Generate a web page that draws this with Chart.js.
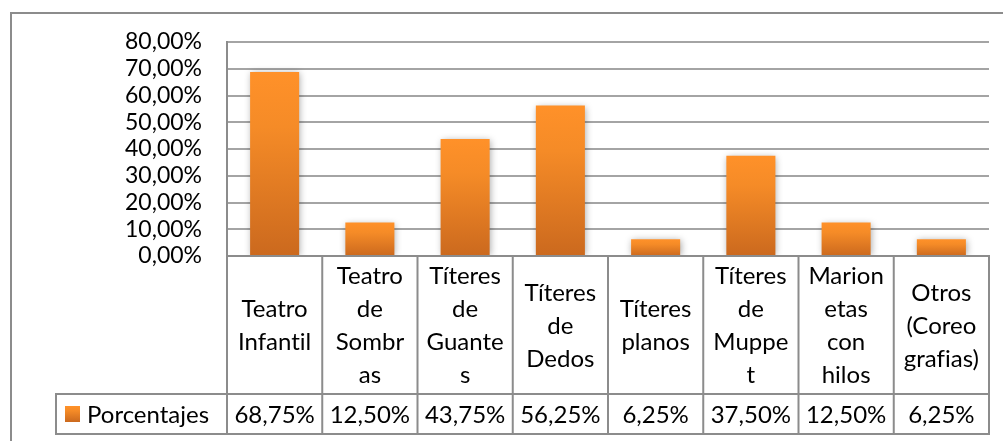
<!DOCTYPE html>
<html><head><meta charset="utf-8">
<script src="https://cdn.jsdelivr.net/npm/chart.js@4.4.1/dist/chart.umd.min.js"></script>
<style>html,body{margin:0;padding:0;background:#fff;overflow:hidden}canvas{display:block}</style>
</head><body>
<canvas id="c" width="1003" height="441"></canvas>
<script>
const categories = [
  ["Teatro","Infantil"],
  ["Teatro","de","Sombr","as"],
  ["Títeres","de","Guante","s"],
  ["Títeres","de","Dedos"],
  ["Títeres","planos"],
  ["Títeres","de","Muppe","t"],
  ["Marion","etas","con","hilos"],
  ["Otros","(Coreo","grafias)"]
];
const seriesName = "Porcentajes";
const porcentajes = [68.75, 12.5, 43.75, 56.25, 6.25, 37.5, 12.5, 6.25];
const yTicks = [0, 10, 20, 30, 40, 50, 60, 70, 80];

const fmt = v => v.toFixed(2).replace('.', ',') + '%';
const FONT = 'Lato, "Open Sans", sans-serif';
const LINE = '#8c8c8c';

function barGradient(ctx, top, bot) {
  const g = ctx.createLinearGradient(0, top, 0, bot);
  g.addColorStop(0, '#FF9129');
  g.addColorStop(0.3, '#F58B27');
  g.addColorStop(1, '#CB691E');
  return g;
}

const framePlugin = {
  id: 'frame',
  beforeDraw(chart) {
    const ctx = chart.ctx;
    ctx.save();
    ctx.strokeStyle = LINE;
    ctx.lineWidth = 2;
    ctx.beginPath();
    ctx.moveTo(11, chart.height + 2);
    ctx.lineTo(11, 13);
    ctx.lineTo(chart.width + 2, 13);
    ctx.stroke();
    ctx.restore();
  }
};

const shadowPlugin = {
  id: 'barShadow',
  beforeDatasetsDraw(chart) {
    const ctx = chart.ctx;
    ctx.save();
    ctx.shadowColor = 'rgba(0,0,0,0.35)';
    ctx.shadowBlur = 7;
    ctx.shadowOffsetX = 1;
    ctx.shadowOffsetY = 1;
  },
  afterDatasetsDraw(chart) { chart.ctx.restore(); }
};

const tablePlugin = {
  id: 'dataTable',
  afterDraw(chart) {
    const ctx = chart.ctx;
    const a = chart.chartArea;
    const x = chart.scales.x;
    const n = categories.length;
    const cw = (a.right - a.left) / n;
    const labelRowH = 138, valueRowH = 40;
    const rowMid = a.bottom + labelRowH;
    const rowBot = rowMid + valueRowH;
    const legendLeft = 56;

    ctx.save();
    ctx.strokeStyle = LINE;
    ctx.lineWidth = 2;
    ctx.beginPath();
    ctx.moveTo(a.left - 1, a.bottom); ctx.lineTo(a.right + 1, a.bottom);
    ctx.moveTo(legendLeft, rowMid); ctx.lineTo(a.right + 1, rowMid);
    ctx.moveTo(legendLeft, rowBot); ctx.lineTo(a.right + 1, rowBot);
    ctx.moveTo(legendLeft, rowMid - 1); ctx.lineTo(legendLeft, rowBot + 1);
    for (let i = 0; i <= n; i++) {
      const bx = x.getPixelForValue(i) - cw / 2;
      ctx.moveTo(bx, i === 0 ? a.top : a.bottom);
      ctx.lineTo(bx, rowBot + 1);
    }
    ctx.stroke();

    try { ctx.textRendering = 'optimizeSpeed'; } catch (e) {}
    ctx.fillStyle = '#000';
    ctx.font = '24px ' + FONT;
    ctx.textAlign = 'center';
    ctx.textBaseline = 'middle';
    const lh = 33;
    const cy = (a.bottom + rowMid) / 2;
    const vy = (rowMid + rowBot) / 2;
    for (let i = 0; i < n; i++) {
      const cx = x.getPixelForValue(i);
      const lines = categories[i];
      lines.forEach((t, k) => {
        ctx.fillText(t, cx, cy - (lines.length - 1) * lh / 2 + k * lh + 1);
      });
      ctx.fillText(fmt(chart.data.datasets[0].data[i]), cx, vy + 1);
    }
    ctx.fillStyle = barGradient(ctx, vy - 8, vy + 8);
    ctx.fillRect(65, vy - 8, 15, 16);
    ctx.fillStyle = '#000';
    ctx.textAlign = 'left';
    ctx.fillText(chart.data.datasets[0].label, 87, vy + 1);
    ctx.restore();
  }
};

function build() {
  new Chart(document.getElementById('c'), {
    type: 'bar',
    data: {
      labels: categories.map(c => c.join(' ')),
      datasets: [{
        label: seriesName,
        data: porcentajes,
        backgroundColor: c => {
          if (c.type !== 'data' || !c.chart.chartArea) return '#F08A2A';
          const y = c.chart.scales.y;
          return barGradient(c.chart.ctx, y.getPixelForValue(c.raw), y.getPixelForValue(0));
        },
        borderWidth: 0,
        categoryPercentage: 1,
        barPercentage: 0.515
      }]
    },
    options: {
      responsive: false,
      animation: false,
      devicePixelRatio: 1,
      layout: { padding: { left: 0, right: 14, top: 42, bottom: 185 } },
      plugins: { legend: { display: false }, tooltip: { enabled: false } },
      scales: {
        x: { display: false, offset: true },
        y: {
          min: 0, max: 80,
          afterFit: s => { s.width = 227; },
          afterBuildTicks: s => { s.ticks = yTicks.map(v => ({ value: v })); },
          ticks: {
            autoSkip: false,
            padding: 25,
            color: '#000',
            font: { family: FONT, size: 23 },
            callback: v => fmt(v)
          },
          grid: { color: '#a4a4a4', lineWidth: 2, drawTicks: false },
          border: { display: true, color: LINE, width: 2 }
        }
      }
    },
    plugins: [framePlugin, shadowPlugin, tablePlugin]
  });
}
if (document.fonts && document.fonts.load) {
  document.fonts.load('24px Lato').then(build, build);
} else { build(); }
</script>
</body></html>
